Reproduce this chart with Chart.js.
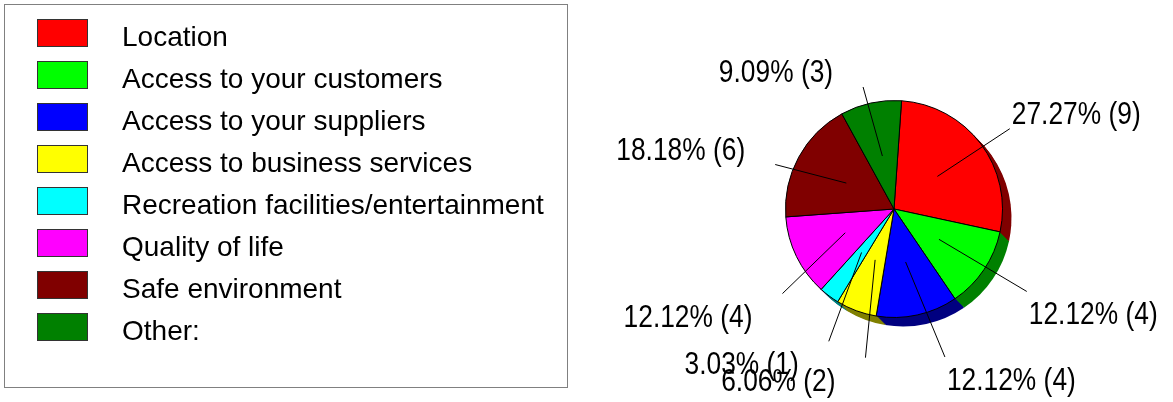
<!DOCTYPE html>
<html>
<head>
<meta charset="utf-8">
<script src="https://cdn.jsdelivr.net/npm/chart.js@4"></script>
<style>
  html, body { margin: 0; padding: 0; background: #fff; }
  canvas { display: block; }
</style>
</head>
<body>
<canvas id="myPieChart" width="1173" height="402"></canvas>
<script>
const categories = [
  "Location",
  "Access to your customers",
  "Access to your suppliers",
  "Access to business services",
  "Recreation facilities/entertainment",
  "Quality of life",
  "Safe environment",
  "Other:"
];
const counts = [9, 4, 4, 2, 1, 4, 6, 3];
const sliceColors = ["#ff0000", "#00ff00", "#0000ff", "#ffff00", "#00ffff", "#ff00ff", "#800000", "#008000"];
const sideColors = ["#800000", "#008000", "#000080", "#808000", "#008080", "#800080", "#400000", "#004000"];

// framed legend on the left
const boxLegend = {
  id: 'boxLegend',
  afterDraw(chart) {
    const ctx = chart.ctx;
    ctx.save();
    ctx.strokeStyle = '#808080';
    ctx.lineWidth = 1;
    ctx.strokeRect(4.5, 4.5, 563, 383);
    ctx.font = '28px "Liberation Sans", Arial, sans-serif';
    ctx.textAlign = 'left';
    ctx.textBaseline = 'alphabetic';
    chart.data.labels.forEach((label, i) => {
      const top = 19 + i * 42;
      ctx.fillStyle = chart.data.datasets[0].backgroundColor[i];
      ctx.fillRect(37, top, 50, 27);
      ctx.strokeStyle = '#333';
      ctx.strokeRect(37.5, top + 0.5, 50, 27);
      ctx.fillStyle = '#000';
      ctx.fillText(label, 122, top + 27);
    });
    ctx.restore();
  }
};

// extruded 3D edge under the slices
const pieDepth = {
  id: 'pieDepth',
  beforeDatasetsDraw(chart) {
    const ctx = chart.ctx;
    const arcs = chart.getDatasetMeta(0).data;
    ctx.save();
    for (let d = 9; d >= 1; d--) {
      arcs.forEach((arc, i) => {
        ctx.beginPath();
        ctx.moveTo(arc.x + d, arc.y + d);
        ctx.arc(arc.x + d, arc.y + d, arc.outerRadius, arc.startAngle, arc.endAngle);
        ctx.closePath();
        ctx.fillStyle = sideColors[i];
        ctx.fill();
      });
    }
    ctx.restore();
  }
};

// percentage labels with leader lines
const sliceLabels = {
  id: 'sliceLabels',
  afterDatasetsDraw(chart) {
    const ctx = chart.ctx;
    const arcs = chart.getDatasetMeta(0).data;
    const data = chart.data.datasets[0].data;
    const total = data.reduce((a, b) => a + b, 0);
    const tilt = 4.5 * Math.PI / 180;
    ctx.save();
    ctx.font = '31px "Liberation Sans", Arial, sans-serif';
    ctx.strokeStyle = '#000';
    ctx.fillStyle = '#000';
    ctx.lineWidth = 1;
    arcs.forEach((arc, i) => {
      const mid = (arc.startAngle + arc.endAngle) / 2;
      const r = arc.outerRadius;
      const x1 = arc.x + Math.cos(mid) * r * 0.5;
      const y1 = arc.y + Math.sin(mid) * r * 0.5;
      // label ring sits a little lower right, like the depth
      const ox = arc.x + 10, oy = arc.y + 13;
      const a2 = mid - tilt;
      const x2 = ox + Math.cos(a2) * r * 1.3;
      const y2 = oy + Math.sin(a2) * r * 1.3;
      ctx.beginPath();
      ctx.moveTo(x1, y1);
      ctx.lineTo(x2, y2);
      ctx.stroke();
      const pct = (data[i] / total * 100).toFixed(2) + '% (' + data[i] + ')';
      const rightSide = x2 >= arc.x;
      const ty = y2 < arc.y ? y2 - 5 : y2 + 33;
      const tx = rightSide ? x2 + 2 : x2 - 30;
      ctx.save();
      ctx.translate(tx, ty);
      ctx.scale(0.85, 1);
      ctx.textAlign = rightSide ? 'left' : 'right';
      ctx.fillText(pct, 0, 0);
      ctx.restore();
    });
    ctx.restore();
  }
};

const pieData = {
  labels: categories,
  datasets: [{
    data: counts,
    backgroundColor: sliceColors,
    borderColor: '#000',
    borderWidth: 1
  }]
};

const pieConfig = {
  type: 'pie',
  data: pieData,
  options: {
    responsive: false,
    animation: false,
    rotation: 4,
    layout: {
      padding: { left: 785, right: 170, top: 100, bottom: 84 }
    },
    plugins: {
      legend: { display: false },
      tooltip: { enabled: false }
    }
  },
  plugins: [pieDepth, sliceLabels, boxLegend]
};

const myPieChart = new Chart(
  document.getElementById('myPieChart'),
  pieConfig
);
</script>
</body>
</html>
